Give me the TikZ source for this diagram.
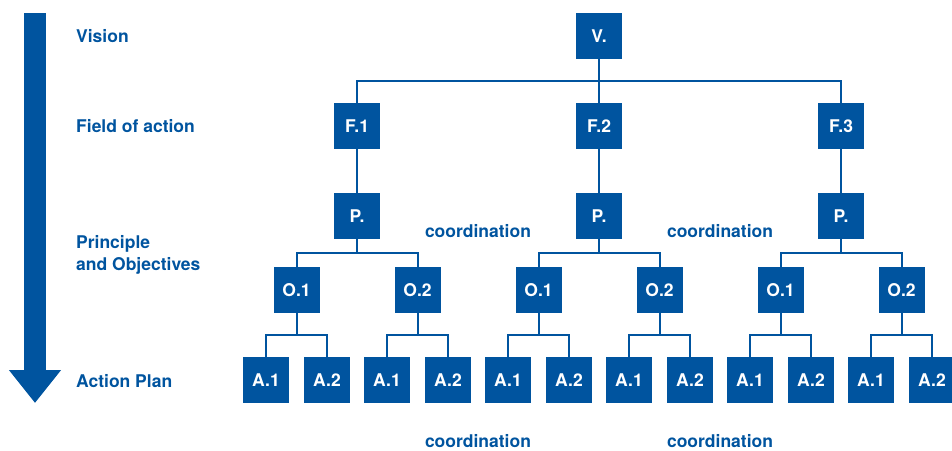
\documentclass[tikz,border=0pt]{standalone}
\usepackage{fontspec}
\setmainfont{TeX Gyre Heros}
\usetikzlibrary{positioning}
\usetikzlibrary{arrows.meta}
\definecolor{planblue}{RGB}{0,84,159}
\tikzset{box/.style = {rectangle, fill=planblue, text=white, minimum size=46pt,
    inner sep=0pt, font=\bfseries\fontsize{17.5}{20}\selectfont}}
\tikzset{level/.style = {anchor=west, text=planblue, align=left, inner xsep=0pt,
    font=\bfseries\fontsize{17.5}{22}\selectfont}}
\tikzset{coord/.style = {text=planblue, font=\bfseries\fontsize{17.5}{22}\selectfont}}
\tikzset{link/.style = {draw=planblue, line width=2pt}}

\begin{document}
\begin{tikzpicture}[x=1pt, y=-1pt, node distance=90pt, on grid]
    \useasboundingbox (0,0) rectangle (952,450);
    % Arrow and levels
    \coordinate (top) at (35,13);
    \coordinate (tip) at (35,403);
    \draw [planblue, line width=22pt, -{Triangle[width=50pt, length=33pt]}] (top) -- (tip);
    \node [level] (vision) at (76,36) {Vision};
    \node [level] (field) at (76,126) {Field of action};
    \node [level] (principle) at (76,255) {Principle\\and Objectives};
    \node [level] (plan) at (76,381) {Action Plan};
    % Place nodes
    \node [box] (V) at (599,36) {V.};
    \node [box, below=of V] (F2) {F.2};
    \node [box, left=242pt of F2] (F1) {F.1};
    \node [box, right=242pt of F2] (F3) {F.3};
    \foreach \i in {1,2,3} {
        \node [box, below=of F\i] (P\i) {P.};
        \node [box, below left=74pt and 60.5pt of P\i] (O\i1) {O.1};
        \node [box, below right=74pt and 60.5pt of P\i] (O\i2) {O.2};
        \foreach \j in {1,2} {
            \node [box, below left=90pt and 30.5pt of O\i\j] (A\i\j1) {A.1};
            \node [box, below right=90pt and 30.5pt of O\i\j] (A\i\j2) {A.2};
        }
    }
    \node [coord] (c1) at (478,231) {coordination};
    \node [coord] (c2) at (720,231) {coordination};
    \node [coord] (c3) at (478,441) {coordination};
    \node [coord] (c4) at (720,441) {coordination};
    % Draw edges
    \draw [link] (V) -- ++(0,45) -| (F1);
    \draw [link] (V) -- ++(0,45) -| (F3);
    \draw [link] (V) -- (F2);
    \foreach \i in {1,2,3} {
        \draw [link] (F\i) -- (P\i);
        \draw [link] (P\i) -- ++(0,37) -| (O\i1);
        \draw [link] (P\i) -- ++(0,37) -| (O\i2);
        \foreach \j in {1,2} {
            \draw [link] (O\i\j) -- ++(0,45) -| (A\i\j1);
            \draw [link] (O\i\j) -- ++(0,45) -| (A\i\j2);
        }
    }
\end{tikzpicture}
\end{document}
